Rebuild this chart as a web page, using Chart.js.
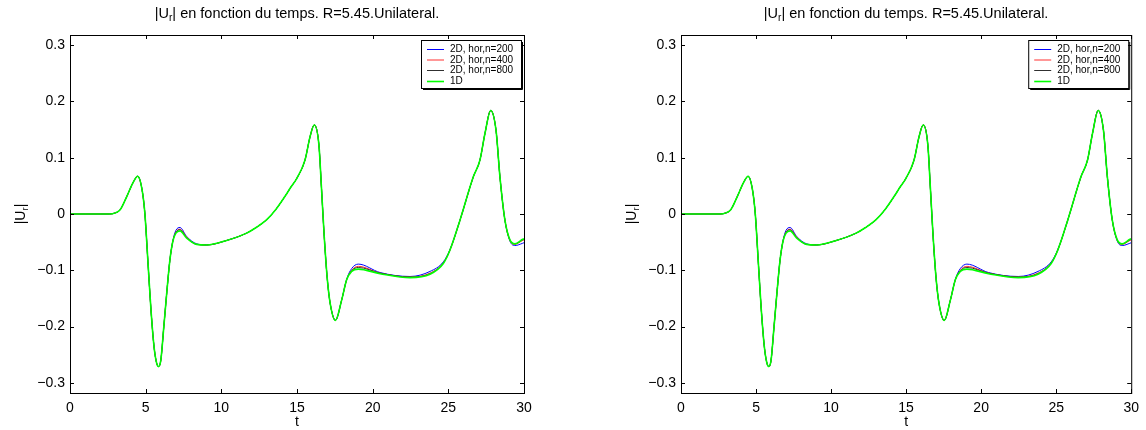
<!DOCTYPE html>
<html>
<head>
<meta charset="utf-8">
<script src="https://cdn.jsdelivr.net/npm/chart.js@4.4.1/dist/chart.umd.min.js"></script>
<style>
  html, body { margin: 0; padding: 0; background: #fff; }
  .panel { position: absolute; top: 0; width: 573px; height: 430px; }
</style>
</head>
<body>
<div class="panel" style="left:0"><canvas id="left" width="573" height="430"></canvas></div>
<div class="panel" style="left:573px"><canvas id="right" width="573" height="430"></canvas></div>
<script>
// Data
const time = [0, 1, 2, 2.6, 3.0, 3.3, 3.75, 4.19, 4.47, 4.75, 4.95, 5.15, 5.35, 5.55, 5.7, 5.84,
  6.0, 6.2, 6.4, 6.6, 6.8, 7.0, 7.27, 7.71, 8.37, 9.03, 10.35, 11.67, 12.3, 13.0, 13.6, 14.32, 14.6, 14.98, 15.53,
  15.86, 16.14, 16.45, 16.62, 16.8, 17.0, 17.2, 17.54, 17.95, 18.28, 18.61, 19.05, 20.49, 22.47,
  23.79, 24.67, 25.11, 25.77, 26.65, 27.09, 27.42, 27.8, 28.15, 28.41, 28.74, 29.07, 29.4, 29.91, 30];

const ur1D = [0, 0, 0, 0, 0.002, 0.007, 0.031, 0.057, 0.067, 0.045, 0.0, -0.085, -0.17, -0.235, -0.262, -0.271,
  -0.26, -0.2, -0.138, -0.082, -0.048, -0.034, -0.030, -0.043, -0.054, -0.055, -0.047, -0.034, -0.024, -0.010, 0.008, 0.036, 0.048, 0.063, 0.096,
  0.137, 0.158, 0.122, 0.045, -0.040, -0.115, -0.160, -0.189, -0.153, -0.117, -0.102, -0.098, -0.106, -0.113,
  -0.107, -0.088, -0.064, -0.011, 0.066, 0.096, 0.143, 0.184, 0.149, 0.066, -0.011, -0.046, -0.053, -0.045, -0.044];

const ur800 = [0, 0, 0, 0, 0.002, 0.007, 0.031, 0.057, 0.067, 0.045, 0.0, -0.085, -0.17, -0.235, -0.262, -0.271,
  -0.26, -0.2, -0.138, -0.082, -0.048, -0.033, -0.028, -0.042, -0.054, -0.055, -0.047, -0.034, -0.024, -0.010, 0.008, 0.036, 0.048, 0.063, 0.096,
  0.137, 0.158, 0.122, 0.045, -0.040, -0.115, -0.160, -0.189, -0.153, -0.117, -0.101, -0.095, -0.105, -0.112,
  -0.106, -0.087, -0.064, -0.011, 0.066, 0.096, 0.143, 0.184, 0.149, 0.066, -0.011, -0.046, -0.053, -0.046, -0.045];

const ur400 = [0, 0, 0, 0, 0.002, 0.007, 0.031, 0.057, 0.067, 0.045, 0.0, -0.085, -0.17, -0.235, -0.262, -0.271,
  -0.26, -0.2, -0.138, -0.082, -0.048, -0.032, -0.027, -0.041, -0.054, -0.055, -0.047, -0.034, -0.024, -0.010, 0.008, 0.036, 0.048, 0.063, 0.096,
  0.137, 0.158, 0.122, 0.045, -0.040, -0.115, -0.160, -0.189, -0.153, -0.117, -0.100, -0.093, -0.105, -0.112,
  -0.105, -0.087, -0.064, -0.011, 0.066, 0.096, 0.143, 0.184, 0.149, 0.066, -0.011, -0.047, -0.054, -0.047, -0.046];

const ur200 = [0, 0, 0, 0, 0.002, 0.007, 0.031, 0.057, 0.067, 0.045, 0.0, -0.085, -0.17, -0.235, -0.262, -0.271,
  -0.26, -0.2, -0.138, -0.082, -0.047, -0.029, -0.024, -0.040, -0.053, -0.055, -0.047, -0.034, -0.024, -0.010, 0.008, 0.036, 0.048, 0.063, 0.096,
  0.137, 0.158, 0.122, 0.045, -0.040, -0.115, -0.160, -0.189, -0.153, -0.116, -0.097, -0.089, -0.104, -0.111,
  -0.102, -0.085, -0.063, -0.011, 0.066, 0.096, 0.143, 0.184, 0.149, 0.066, -0.011, -0.048, -0.056, -0.052, -0.051];

const seriesLabels = ['2D, hor,n=200', '2D, hor,n=400', '2D, hor,n=800', '1D'];
const seriesColors = ['#0000ff', '#ff3030', '#303030', '#00ff00'];
const seriesWidths = [1, 1, 1, 1.6];

const FONT = '"Liberation Sans", Arial, Helvetica, sans-serif';

const toPoints = vals => time.map((t, i) => ({ x: t, y: vals[i] }));

// draw text with a subscript piece: parts = [[text, isSub], ...]
function richWidth(ctx, parts, size) {
  let w = 0;
  parts.forEach(([txt, sub]) => {
    ctx.font = (sub ? size * 0.7 : size) + 'px ' + FONT;
    w += ctx.measureText(txt).width;
  });
  return w;
}
function drawRich(ctx, parts, cx, cy, size) {
  let x = cx - richWidth(ctx, parts, size) / 2;
  ctx.textAlign = 'left';
  ctx.textBaseline = 'middle';
  parts.forEach(([txt, sub]) => {
    ctx.font = (sub ? size * 0.7 : size) + 'px ' + FONT;
    ctx.fillText(txt, x, sub ? cy + size * 0.32 : cy);
    x += ctx.measureText(txt).width;
  });
}

const matlabAxes = {
  id: 'matlabAxes',
  afterDraw(chart) {
    const ctx = chart.ctx;
    const a = chart.chartArea;
    const xs = chart.scales.x, ys = chart.scales.y;
    ctx.save();
    ctx.strokeStyle = '#000';
    ctx.fillStyle = '#000';
    ctx.lineWidth = 1;
    // box
    ctx.strokeRect(a.left + 0.5, a.top + 0.5, a.right - a.left, a.bottom - a.top);
    // inward ticks on all sides
    const tl = 4;
    ctx.beginPath();
    xs.ticks.forEach(t => {
      const px = Math.round(xs.getPixelForValue(t.value)) + 0.5;
      ctx.moveTo(px, a.bottom); ctx.lineTo(px, a.bottom - tl);
      ctx.moveTo(px, a.top); ctx.lineTo(px, a.top + tl);
    });
    ys.ticks.forEach(t => {
      const py = Math.round(ys.getPixelForValue(t.value)) + 0.5;
      ctx.moveTo(a.left, py); ctx.lineTo(a.left + tl, py);
      ctx.moveTo(a.right, py); ctx.lineTo(a.right - tl, py);
    });
    ctx.stroke();

    const cx = (a.left + a.right) / 2;
    // title
    drawRich(ctx, [['|U', false], ['r', true], ['| en fonction du temps. R=5.45.Unilateral.', false]], cx, 14, 14.5);
    // x label
    drawRich(ctx, [['t', false]], cx, 422, 14);
    // y label
    ctx.save();
    ctx.translate(a.left - 49, (a.top + a.bottom) / 2);
    ctx.rotate(-Math.PI / 2);
    drawRich(ctx, [['|U', false], ['r', true], ['|', false]], 0, 0, 14);
    ctx.restore();

    // legend
    const bw = 100, bh = 48;
    const bx = a.right - 3 - bw, by = a.top + 5;
    ctx.fillStyle = '#fff';
    ctx.fillRect(bx, by, bw, bh);
    ctx.strokeStyle = '#000';
    ctx.strokeRect(bx + 0.5, by + 0.5, bw, bh);
    ctx.beginPath();
    ctx.moveTo(bx + bw + 1.5, by + 2); ctx.lineTo(bx + bw + 1.5, by + bh + 1.5);
    ctx.lineTo(bx + 2, by + bh + 1.5);
    ctx.stroke();
    ctx.font = '10px ' + FONT;
    ctx.textAlign = 'left';
    ctx.textBaseline = 'middle';
    const rows = [9.5, 20, 30.5, 41.5];
    chart.data.datasets.forEach((ds, i) => {
      const ry = by + rows[i];
      ctx.strokeStyle = ds.borderColor;
      ctx.lineWidth = ds.borderWidth;
      ctx.beginPath();
      ctx.moveTo(bx + 6, ry); ctx.lineTo(bx + 23, ry);
      ctx.stroke();
      ctx.fillStyle = '#000';
      ctx.fillText(ds.label, bx + 29, ry);
    });
    ctx.restore();
  }
};

function fmtY(v) {
  if (Math.abs(v) < 1e-9) return '0';
  return (v < 0 ? '\u2212' : '') + Math.abs(v).toFixed(1);
}

function makeChart(id, area) {
  const allVals = [ur200, ur400, ur800, ur1D];
  return new Chart(document.getElementById(id), {
    type: 'line',
    data: {
      datasets: allVals.map((vals, i) => ({
        label: seriesLabels[i],
        data: toPoints(vals),
        borderColor: seriesColors[i],
        borderWidth: seriesWidths[i],
        pointRadius: 0,
        fill: false,
        cubicInterpolationMode: 'monotone',
        order: 3 - i
      }))
    },
    options: {
      responsive: false,
      animation: false,
      layout: { padding: { top: area.top, right: 573 - area.right, left: 0, bottom: 0 } },
      plugins: { legend: { display: false }, title: { display: false }, tooltip: { enabled: false } },
      scales: {
        x: {
          type: 'linear', min: 0, max: 30,
          grid: { display: false, drawTicks: false },
          border: { display: false },
          ticks: { stepSize: 5, padding: 7, color: '#000', maxRotation: 0, autoSkip: false,
                   font: { family: FONT, size: 14 } },
          afterFit: s => { s.height = 430 - area.bottom; }
        },
        y: {
          min: -0.318, max: 0.318,
          grid: { display: false, drawTicks: false },
          border: { display: false },
          ticks: { stepSize: 0.1, includeBounds: false, padding: 5, color: '#000',
                   font: { family: FONT, size: 14 }, callback: v => fmtY(v) },
          afterFit: s => { s.width = area.left; }
        }
      }
    },
    plugins: [matlabAxes]
  });
}

makeChart('left', { left: 70, right: 524, top: 35, bottom: 393 });
makeChart('right', { left: 108, right: 562, top: 35, bottom: 393 });
</script>
</body>
</html>
